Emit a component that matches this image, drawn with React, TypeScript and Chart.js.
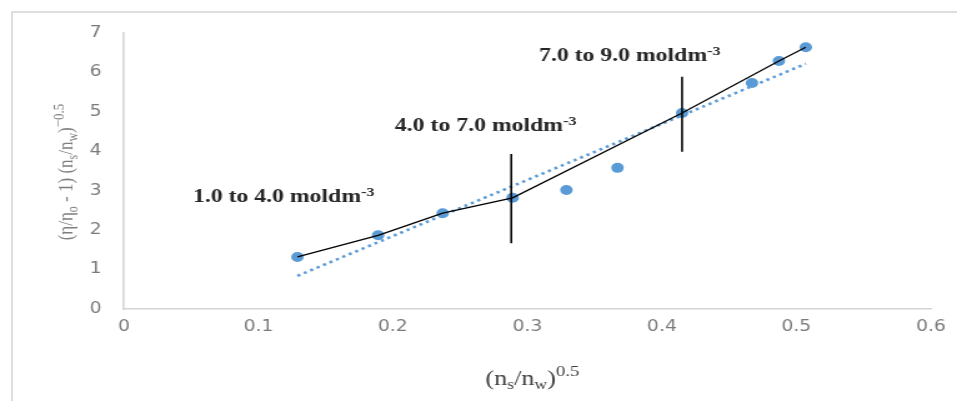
import { useEffect, useRef } from "react";
import { Chart, registerables } from "chart.js";

Chart.register(...registerables);

// ---- data ----
const xValues = [0.129, 0.189, 0.237, 0.289, 0.329, 0.367, 0.415, 0.467, 0.487, 0.507];
const yValues = [1.32, 1.87, 2.43, 2.82, 3.02, 3.58, 4.97, 5.73, 6.29, 6.64];
// indices of the points joined by the black piecewise line
const segmentIndices = [0, 1, 2, 3, 6, 8, 9];
// linear trendline end points
const trendX = [0.129, 0.507];
const trendY = [0.84, 6.22];
// vertical dividers
const dividerX = [0.288, 0.415];
const dividerLow = [1.67, 3.99];
const dividerHigh = [3.93, 5.89];
// range annotations (anchored in data units)
const rangeLabels = ["1.0 to 4.0 moldm", "4.0 to 7.0 moldm", "7.0 to 9.0 moldm"];
const rangeAnchorX = [0.0513, 0.2015, 0.3086];
const rangeAnchorY = [2.71, 4.52, 6.3];
const xMin = 0, xMax = 0.6, xStep = 0.1;
const yMin = 0, yMax = 7, yStep = 1;

const STRETCH = 1.25;
const OUT_W = 957;
const OUT_H = 401;
const IN_W = Math.round(OUT_W / STRETCH);

const BLUE = "#5B9BD5";

type Seg = { t: string; size: number; dy: number };

function drawRich(
  ctx: CanvasRenderingContext2D,
  segs: Seg[],
  family: string,
  weight: string,
  color: string,
  x: number,
  y: number,
  align: "left" | "center"
) {
  ctx.fillStyle = color;
  ctx.textBaseline = "alphabetic";
  ctx.textAlign = "left";
  const widths: number[] = [];
  let total = 0;
  for (const s of segs) {
    ctx.font = `${weight} ${s.size}px ${family}`;
    const w = ctx.measureText(s.t).width;
    widths.push(w);
    total += w;
  }
  let cx = align === "center" ? x - total / 2 : x;
  segs.forEach((s, i) => {
    ctx.font = `${weight} ${s.size}px ${family}`;
    ctx.fillText(s.t, cx, y + s.dy);
    cx += widths[i];
  });
}

const textPlugin = {
  id: "textPlugin",
  afterDraw(chart: any) {
    const ctx: CanvasRenderingContext2D = chart.ctx;
    const xs = chart.scales.x;
    const ys = chart.scales.y;
    const area = chart.chartArea;
    ctx.save();
    // range annotations
    rangeLabels.forEach((label, i) => {
      const px = xs.getPixelForValue(rangeAnchorX[i]);
      const py = ys.getPixelForValue(rangeAnchorY[i]);
      drawRich(
        ctx,
        [
          { t: label, size: 19, dy: 0 },
          { t: "-3", size: 13, dy: -6 },
        ],
        "'Liberation Serif', serif",
        "bold",
        "#262626",
        px,
        py,
        "left"
      );
    });
    // x title
    const xtX = (area.left + area.right) / 2 + 4;
    drawRich(
      ctx,
      [
        { t: "(n", size: 21, dy: 0 },
        { t: "s", size: 14, dy: 4 },
        { t: "/n", size: 21, dy: 0 },
        { t: "w", size: 14, dy: 4 },
        { t: ")", size: 21, dy: 0 },
        { t: "0.5", size: 15, dy: -9 },
      ],
      "'Liberation Serif', serif",
      "normal",
      "#404040",
      xtX,
      385,
      "center"
    );
    // y title
    ctx.translate(52, (area.top + area.bottom) / 2 + 1);
    ctx.rotate(-Math.PI / 2);
    drawRich(
      ctx,
      [
        { t: "(\u03b7/\u03b7", size: 17, dy: 0 },
        { t: "o", size: 12, dy: 4 },
        { t: " - 1) (n", size: 17, dy: 0 },
        { t: "s", size: 12, dy: 4 },
        { t: "/n", size: 17, dy: 0 },
        { t: "w", size: 12, dy: 4 },
        { t: ")", size: 17, dy: 0 },
        { t: "\u22120.5", size: 13, dy: -7 },
      ],
      "'Liberation Serif', serif",
      "normal",
      "#7f7f7f",
      0,
      6,
      "center"
    );
    ctx.restore();
  },
};

export default function App() {
  const ref = useRef<HTMLCanvasElement | null>(null);
  useEffect(() => {
    if (!ref.current) return;
    const points = xValues.map((x, i) => ({ x, y: yValues[i] }));
    const segPts = segmentIndices.map((i) => ({ x: xValues[i], y: yValues[i] }));
    const trend = trendX.map((x, i) => ({ x, y: trendY[i] }));
    const dividers = dividerX.map((x, i) => ({
      type: "line" as const,
      data: [
        { x, y: dividerLow[i] },
        { x, y: dividerHigh[i] },
      ],
      showLine: true,
      borderColor: "#000000",
      borderWidth: 1.6,
      pointRadius: 0,
      order: 0,
    }));
    const chart = new Chart(ref.current, {
      type: "scatter",
      data: {
        datasets: [
          {
            data: points,
            pointRadius: 5,
            pointBackgroundColor: BLUE,
            pointBorderWidth: 0,
            showLine: false,
            order: 3,
          },
          {
            type: "line",
            data: trend,
            showLine: true,
            borderColor: BLUE,
            borderWidth: 2.6,
            borderDash: [2.5, 3.3],
            pointRadius: 0,
            order: 2,
          },
          {
            type: "line",
            data: segPts,
            showLine: true,
            borderColor: "#000000",
            borderWidth: 1.3,
            pointRadius: 0,
            tension: 0,
            order: 1,
          },
          ...dividers,
        ] as any,
      },
      options: {
        responsive: false,
        devicePixelRatio: 1,
        animation: false,
        events: [],
        layout: { padding: { top: 33, right: IN_W - 745.6, left: 0, bottom: 0 } },
        plugins: {
          legend: { display: false },
          tooltip: { enabled: false },
        },
        scales: {
          x: {
            type: "linear",
            min: xMin,
            max: xMax,
            grid: { display: false, drawTicks: false },
            border: { display: true, color: "#d4d4d4", width: 1.6 },
            ticks: {
              stepSize: xStep,
              padding: 9,
              color: "#7a7a7a",
              font: { family: "'DejaVu Sans', sans-serif", size: 15 },
              callback: (v: any) => String(Math.round(Number(v) * 10) / 10),
            },
            afterFit: (s: any) => {
              s.height = OUT_H - 309;
            },
          },
          y: {
            type: "linear",
            min: yMin,
            max: yMax,
            grid: { display: false, drawTicks: false },
            border: { display: true, color: "#d4d4d4", width: 1.6 },
            ticks: {
              stepSize: yStep,
              padding: 18,
              color: "#7a7a7a",
              font: { family: "'DejaVu Sans', sans-serif", size: 15 },
            },
            afterFit: (s: any) => {
              s.width = 99.2;
            },
          },
        },
      },
      plugins: [textPlugin],
    });
    return () => chart.destroy();
  }, []);
  return (
    <div style={{ position: "fixed", left: 0, top: 0, width: OUT_W, height: OUT_H, background: "#fff" }}>
      <canvas
        ref={ref}
        width={IN_W}
        height={OUT_H}
        style={{ width: OUT_W, height: OUT_H, display: "block" }}
      />
      <div
        style={{
          position: "absolute",
          left: 11,
          top: 11,
          right: 0,
          bottom: 0,
          borderTop: "2px solid #dedede",
          borderLeft: "2px solid #dedede",
          pointerEvents: "none",
        }}
      />
    </div>
  );
}
